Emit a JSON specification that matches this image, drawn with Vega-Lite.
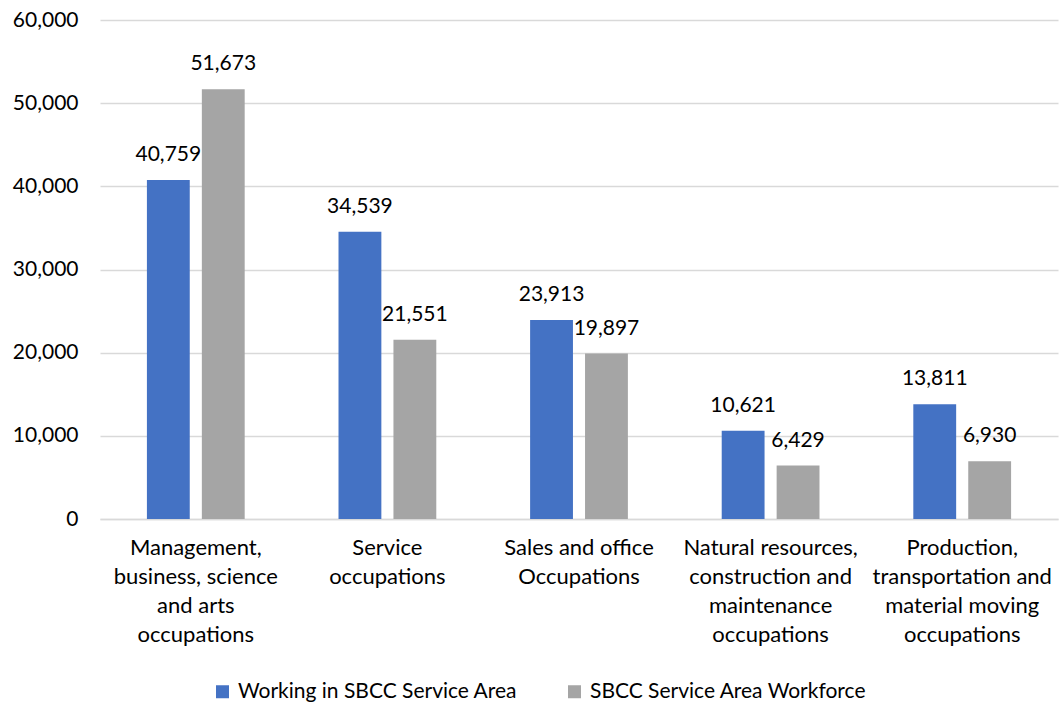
{
  "$schema": "https://vega.github.io/schema/vega-lite/v6.json",
  "width": 958,
  "height": 499,
  "autosize": "none",
  "padding": {"left": 100, "top": 20, "right": 1, "bottom": 188},
  "background": "white",
  "config": {
    "view": {"stroke": null},
    "font": "Lato",
    "text": {"font": "Lato"}
  },
  "data": {
    "values": [
      {"cat": "Management,|business, science|and arts|occupations", "series": "Working in SBCC Service Area", "value": 40759},
      {"cat": "Management,|business, science|and arts|occupations", "series": "SBCC Service Area Workforce", "value": 51673},
      {"cat": "Service|occupations", "series": "Working in SBCC Service Area", "value": 34539},
      {"cat": "Service|occupations", "series": "SBCC Service Area Workforce", "value": 21551},
      {"cat": "Sales and office|Occupations", "series": "Working in SBCC Service Area", "value": 23913},
      {"cat": "Sales and office|Occupations", "series": "SBCC Service Area Workforce", "value": 19897},
      {"cat": "Natural resources,|construction and|maintenance|occupations", "series": "Working in SBCC Service Area", "value": 10621},
      {"cat": "Natural resources,|construction and|maintenance|occupations", "series": "SBCC Service Area Workforce", "value": 6429},
      {"cat": "Production,|transportation and|material moving|occupations", "series": "Working in SBCC Service Area", "value": 13811},
      {"cat": "Production,|transportation and|material moving|occupations", "series": "SBCC Service Area Workforce", "value": 6930}
    ]
  },
  "encoding": {
    "x": {
      "field": "cat",
      "type": "nominal",
      "sort": null,
      "scale": {"paddingInner": 0, "paddingOuter": 0},
      "axis": {
        "title": null,
        "labelAngle": 0,
        "labelExpr": "split(datum.value, '|')",
        "labelFont": "Lato",
        "labelFontSize": 22,
        "labelColor": "#000000",
        "labelLineHeight": 29,
        "labelPadding": 18,
        "labelBaseline": "top",
        "labelLimit": 300,
        "ticks": false,
        "domainColor": "#D9D9D9",
        "domainWidth": 1.3,
        "grid": false
      }
    },
    "xOffset": {
      "field": "series",
      "type": "nominal",
      "sort": ["Working in SBCC Service Area", "SBCC Service Area Workforce"],
      "scale": {"paddingInner": 0.22, "paddingOuter": 0.854}
    },
    "y": {
      "field": "value",
      "type": "quantitative",
      "scale": {"domain": [0, 60000]},
      "axis": {
        "title": null,
        "values": [0, 10000, 20000, 30000, 40000, 50000, 60000],
        "format": ",d",
        "labelFont": "Lato",
        "labelFontSize": 21,
        "labelColor": "#000000",
        "labelPadding": 22,
        "ticks": false,
        "domain": false,
        "gridColor": "#D9D9D9",
        "gridWidth": 1.3
      }
    }
  },
  "layer": [
    {
      "mark": {"type": "bar"},
      "encoding": {
        "color": {
          "field": "series",
          "type": "nominal",
          "sort": ["Working in SBCC Service Area", "SBCC Service Area Workforce"],
          "scale": {"domain": ["Working in SBCC Service Area", "SBCC Service Area Workforce"], "range": ["#4472C4", "#A5A5A5"]},
          "legend": {
            "title": null,
            "orient": "none",
            "direction": "horizontal",
            "legendX": 112,
            "legendY": 661,
            "symbolType": "square",
            "symbolSize": 169,
            "symbolStrokeWidth": 0,
            "symbolOpacity": 1,
            "labelFont": "Lato",
            "labelFontSize": 21,
            "labelColor": "#000000",
            "labelOffset": 5,
            "labelLimit": 400,
            "columnPadding": 46
          }
        }
      }
    },
    {
      "mark": {"type": "text", "baseline": "alphabetic", "dy": -19, "fontSize": 21, "font": "Lato", "color": "#000000"},
      "encoding": {
        "text": {"field": "value", "type": "quantitative", "format": ",d"}
      }
    }
  ]
}
